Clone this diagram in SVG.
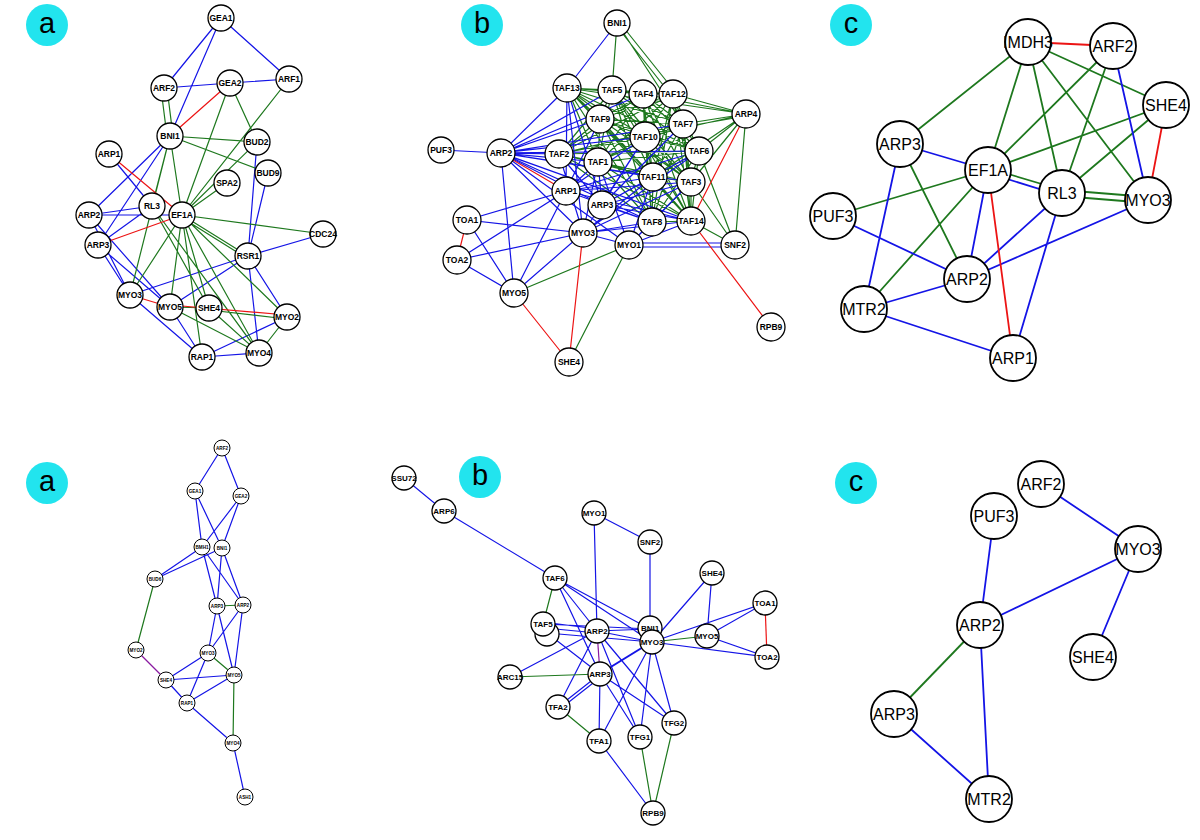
<svg xmlns="http://www.w3.org/2000/svg" width="1200" height="840" viewBox="0 0 1200 840">
<style>
.e path{fill:none;stroke-width:1.2}
.e .b{stroke:#1414e6}
.e .g{stroke:#1e781e}
.e .r{stroke:#ec1414}
.e .p{stroke:#8a1aa0}
.e .w path,.e path.w{stroke-width:1.8}
.n circle{fill:#fff;stroke:#000;stroke-width:1.3}
.n text{font-family:"Liberation Sans",Arial,sans-serif;text-anchor:middle;dominant-baseline:central;fill:#000}
.s1 text{font-size:8.5px;font-weight:bold}
.s2 text{font-size:16px}
.s2 circle{stroke-width:1.8}
.s3 text{font-size:4.6px;font-weight:bold}
.s3 circle{stroke-width:1}
.s4 text{font-size:8px;font-weight:bold}
.lab circle{fill:#22e4ee}
.lab text{font-family:"Liberation Sans",Arial,sans-serif;font-size:29px;text-anchor:middle;dominant-baseline:central}
</style>
<rect width="1200" height="840" fill="#fff"/>
<g class="lab">
<g id="label-a1"><circle cx="47" cy="25" r="21"/><text x="47" y="23">a</text></g>
<g id="label-b1"><circle cx="482" cy="25" r="21"/><text x="482" y="23">b</text></g>
<g id="label-c1"><circle cx="851" cy="25" r="21"/><text x="851" y="23">c</text></g>
<g id="label-a2"><circle cx="47" cy="483" r="21"/><text x="47" y="481">a</text></g>
<g id="label-b2"><circle cx="480" cy="477" r="21"/><text x="480" y="475">b</text></g>
<g id="label-c2"><circle cx="856" cy="483" r="21"/><text x="856" y="481">c</text></g>
</g>
<g id="connectors" class="e">
<!-- top a -->
<path class="b" d="M221 18L164 88M221 18L170 136M221 18L289 79M164 88L230 83M230 83L289 79M170 136L89 215M170 136L98 245M109 154L152 206M89 215L152 206M89 215L182 215M89 215L130 295M89 215L170 307M98 245L152 206M98 245L130 295M98 245L170 307M257 142L248 256M268 173L248 256M248 256L323 234M248 256L130 295M248 256L170 307M248 256L287 317M248 256L259 353M130 295L202 357M170 307L202 357M202 357L259 353M202 357L287 317"/>
<path class="g" d="M161 89L167 136M167 88L173 136M230 83L257 142M230 83L182 215M289 79L182 215M170 136L257 142M170 136L268 173M257 142L182 215M227 183L182 215M170 136L182 215M170 136L152 206M170 136L130 295M182 215L323 234M182 215L248 256M184 219L248 259M182 215L130 295M182 215L170 307M182 215L209 308M182 215L287 317M182 215L259 353M182 215L202 357M152 206L209 308M152 206L259 353M170 307L209 308M170 307L259 353M287 317L259 353M209 308L259 353M209 310L287 319"/>
<path class="r" d="M230 83L170 136M109 154L182 215M98 245L182 215M130 295L170 307M170 305L287 315"/>
<!-- top b -->
<path class="g" d="M567 88L612 90M567 88L643 94M567 88L673 94M567 88L600 119M567 88L683 124M567 88L645 137M567 88L699 151M567 88L598 162M567 88L653 177M567 88L691 182M567 88L652 222M567 88L691 221M612 90L643 94M612 90L673 94M612 90L600 119M612 90L683 124M612 90L645 137M612 90L699 151M612 90L559 154M612 90L598 162M612 90L653 177M612 90L691 182M612 90L652 222M612 90L691 221M643 94L673 94M643 94L600 119M643 94L683 124M643 94L645 137M643 94L699 151M643 94L559 154M643 94L598 162M643 94L653 177M643 94L691 182M643 94L652 222M643 94L691 221M673 94L600 119M673 94L683 124M673 94L645 137M673 94L699 151M673 94L559 154M673 94L598 162M673 94L653 177M673 94L691 182M673 94L652 222M673 94L691 221M600 119L683 124M600 119L645 137M600 119L699 151M600 119L559 154M600 119L598 162M600 119L653 177M600 119L691 182M600 119L652 222M600 119L691 221M683 124L645 137M683 124L699 151M683 124L559 154M683 124L598 162M683 124L653 177M683 124L691 182M683 124L652 222M683 124L691 221M645 137L699 151M645 137L559 154M645 137L598 162M645 137L653 177M645 137L691 182M645 137L652 222M645 137L691 221M699 151L559 154M699 151L598 162M699 151L653 177M699 151L691 182M699 151L652 222M699 151L691 221M559 154L598 162M559 154L653 177M559 154L691 182M559 154L652 222M559 154L691 221M598 162L653 177M598 162L691 182M598 162L652 222M598 162L691 221M653 177L691 182M653 177L652 222M653 177L691 221M691 182L652 222M691 182L691 221M652 222L691 221"/>
<path class="b" d="M501 153L567 88M501 153L612 90M501 153L643 94M501 153L600 119M501 153L645 137M501 153L559 154M501 153L598 162M501 153L653 177M501 153L683 124M501 153L699 151M501 153L691 182M501 153L652 222M501 153L691 221M566 191L598 162M566 191L600 119M566 191L645 137M566 191L653 177M566 191L691 182M566 191L652 222M566 191L691 221M566 191L699 151M566 191L567 88M602 205L645 137M602 205L653 177M602 205L691 182M602 205L652 222M602 205L691 221M602 205L699 151M602 205L598 162M602 205L683 124M602 205L567 88M602 205L559 154M583 233L598 162M583 233L653 177M583 233L691 182M583 233L652 222M583 233L691 221M583 233L699 151M583 233L645 137M583 233L567 88M583 233L559 154M629 245L652 222M629 245L691 221M629 245L691 182M629 245L653 177M629 245L598 162"/>
<path class="b" d="M617 23L567 88M441 150L501 153M501 153L514 293M467 220L566 191M467 220L583 233M467 220L514 293M457 260L566 191M457 260L583 233M457 260L514 293M514 293L566 191M514 293L583 233M629 243L735 243M629 247L735 247M629 245L583 233M501 153L602 205M501 153L583 233M501 153L629 245"/>
<path class="g" d="M617 23L612 90M615 24L671 95M620 23L676 93M617 23L683 124M746 114L567 88M746 114L643 94M746 114L673 94M746 114L683 124M746 116L683 127M746 114L645 137M746 114L699 151M746 114L653 177M746 114L691 182M746 114L735 245M735 245L691 221M735 245L699 151M735 245L691 182M629 245L514 293M629 245L569 362"/>
<path class="r" d="M501 153L566 191M467 220L457 260M583 233L569 362M514 293L569 362M746 114L691 221M691 221L771 327"/>
<!-- top c -->
<g class="w">
<path class="g" d="M1028 42L900 144M1028 42L988 170M1028 42L1062 193M1028 42L1148 200M1028 42L1166 105M1113 46L988 170M1113 46L1062 193M1166 105L988 170M1166 105L1062 193M900 144L967 279M988 168L1062 190M1062 190L1148 197M1062 196L1148 203M988 170L833 216M988 170L864 309"/>
<path class="b" d="M1113 46L1148 200M900 144L988 170M900 144L864 309M988 173L1062 196M988 170L967 279M1062 193L967 279M1062 193L1013 358M1148 200L967 279M833 216L967 279M864 309L967 279M864 309L1013 358"/>
<path class="r" d="M1028 42L1113 46M1166 105L1148 200M988 170L1013 358"/>
</g>
<!-- bottom a -->
<path class="b" d="M222 448L195 491M222 448L241 496M195 491L202 547M195 491L222 548M241 496L202 547M241 496L222 548M202 547L155 579M222 548L155 579M202 547L217 606M202 547L243 605M222 548L217 606M222 548L243 605M217 606L208 653M217 606L234 675M243 605L208 653M243 605L234 675M208 653L166 680M208 653L187 703M166 680L234 675M166 680L187 703M234 675L187 703M187 703L233 743M233 743L245 797"/>
<path class="g" d="M155 579L136 650M217 606L243 605M208 653L234 675M234 675L233 743"/>
<path class="p" d="M136 650L166 680"/>
<!-- bottom b -->
<path class="b" d="M404 478L444 511M444 511L555 578M555 578L597 631M555 578L600 674M555 578L652 642M555 578L650 629M594 513L650 542M594 513L597 631M650 542L650 629M712 573L652 642M712 573L707 636M765 603L652 642M765 603L707 636M652 642L767 657M707 636L767 657M543 622L597 629M545 628L597 633M547 633L652 642M543 624L650 629M597 631L650 629M597 631L652 642M597 631L510 677M597 631L558 707M597 631L640 737M597 631L674 723M600 674L558 707M602 676L560 709M600 674L599 741M600 674L640 737M600 674L674 723M600 674L652 642M602 672L654 640M652 642L599 741M652 642L640 737M652 642L674 723M599 741L653 813M547 633L600 674"/>
<path class="g" d="M555 578L543 624M652 642L707 636M510 677L600 674M558 707L599 741M640 737L653 813M674 723L653 813"/>
<path class="r" d="M765 603L767 657"/>
<path class="p" d="M597 631L600 674"/>
<!-- bottom c -->
<g class="w">
<path class="b" d="M1041 484L1138 549M994 516L980 625M1138 549L980 625M1138 549L1093 657M980 625L989 799M894 714L989 799"/>
<path class="g" d="M980 625L894 714"/>
</g>
</g>
<g id="nodes-top-a" class="n s1">
<g id="ta-GEA1"><circle cx="221" cy="18" r="13"/><text x="221" y="18">GEA1</text></g>
<g id="ta-ARF2"><circle cx="164" cy="88" r="13"/><text x="164" y="88">ARF2</text></g>
<g id="ta-GEA2"><circle cx="230" cy="83" r="13"/><text x="230" y="83">GEA2</text></g>
<g id="ta-ARF1"><circle cx="289" cy="79" r="13"/><text x="289" y="79">ARF1</text></g>
<g id="ta-BNI1"><circle cx="170" cy="136" r="13"/><text x="170" y="136">BNI1</text></g>
<g id="ta-BUD2"><circle cx="257" cy="142" r="13"/><text x="257" y="142">BUD2</text></g>
<g id="ta-BUD9"><circle cx="268" cy="173" r="13"/><text x="268" y="173">BUD9</text></g>
<g id="ta-ARP1"><circle cx="109" cy="154" r="13"/><text x="109" y="154">ARP1</text></g>
<g id="ta-SPA2"><circle cx="227" cy="183" r="13"/><text x="227" y="183">SPA2</text></g>
<g id="ta-RL3"><circle cx="152" cy="206" r="13"/><text x="152" y="206">RL3</text></g>
<g id="ta-EF1A"><circle cx="182" cy="215" r="13"/><text x="182" y="215">EF1A</text></g>
<g id="ta-ARP2"><circle cx="89" cy="215" r="13"/><text x="89" y="215">ARP2</text></g>
<g id="ta-ARP3"><circle cx="98" cy="245" r="13"/><text x="98" y="245">ARP3</text></g>
<g id="ta-CDC24"><circle cx="323" cy="234" r="13"/><text x="323" y="234">CDC24</text></g>
<g id="ta-RSR1"><circle cx="248" cy="256" r="13"/><text x="248" y="256">RSR1</text></g>
<g id="ta-MYO3"><circle cx="130" cy="295" r="13"/><text x="130" y="295">MYO3</text></g>
<g id="ta-MYO5"><circle cx="170" cy="307" r="13"/><text x="170" y="307">MYO5</text></g>
<g id="ta-SHE4"><circle cx="209" cy="308" r="13"/><text x="209" y="308">SHE4</text></g>
<g id="ta-MYO2"><circle cx="287" cy="317" r="13"/><text x="287" y="317">MYO2</text></g>
<g id="ta-RAP1"><circle cx="202" cy="357" r="13"/><text x="202" y="357">RAP1</text></g>
<g id="ta-MYO4"><circle cx="259" cy="353" r="13"/><text x="259" y="353">MYO4</text></g>
</g>
<g id="nodes-top-b" class="n s1">
<g id="tb-BNI1"><circle cx="617" cy="23" r="13"/><text x="617" y="23">BNI1</text></g>
<g id="tb-TAF5"><circle cx="612" cy="90" r="14"/><text x="612" y="90">TAF5</text></g>
<g id="tb-TAF13"><circle cx="567" cy="88" r="14"/><text x="567" y="88">TAF13</text></g>
<g id="tb-TAF4"><circle cx="643" cy="94" r="14"/><text x="643" y="94">TAF4</text></g>
<g id="tb-TAF12"><circle cx="673" cy="94" r="14"/><text x="673" y="94">TAF12</text></g>
<g id="tb-ARP4"><circle cx="746" cy="114" r="14"/><text x="746" y="114">ARP4</text></g>
<g id="tb-TAF9"><circle cx="600" cy="119" r="14"/><text x="600" y="119">TAF9</text></g>
<g id="tb-TAF7"><circle cx="683" cy="124" r="14"/><text x="683" y="124">TAF7</text></g>
<g id="tb-TAF10"><circle cx="645" cy="137" r="15"/><text x="645" y="137">TAF10</text></g>
<g id="tb-PUF3"><circle cx="441" cy="150" r="13"/><text x="441" y="150">PUF3</text></g>
<g id="tb-ARP2"><circle cx="501" cy="153" r="14"/><text x="501" y="153">ARP2</text></g>
<g id="tb-TAF6"><circle cx="699" cy="151" r="14"/><text x="699" y="151">TAF6</text></g>
<g id="tb-TAF2"><circle cx="559" cy="154" r="14"/><text x="559" y="154">TAF2</text></g>
<g id="tb-TAF1"><circle cx="598" cy="162" r="14"/><text x="598" y="162">TAF1</text></g>
<g id="tb-TAF11"><circle cx="653" cy="177" r="14"/><text x="653" y="177">TAF11</text></g>
<g id="tb-TAF3"><circle cx="691" cy="182" r="14"/><text x="691" y="182">TAF3</text></g>
<g id="tb-ARP1"><circle cx="566" cy="191" r="14"/><text x="566" y="191">ARP1</text></g>
<g id="tb-ARP3"><circle cx="602" cy="205" r="14"/><text x="602" y="205">ARP3</text></g>
<g id="tb-TOA1"><circle cx="467" cy="220" r="14"/><text x="467" y="220">TOA1</text></g>
<g id="tb-TAF8"><circle cx="652" cy="222" r="14"/><text x="652" y="222">TAF8</text></g>
<g id="tb-TAF14"><circle cx="691" cy="221" r="14"/><text x="691" y="221">TAF14</text></g>
<g id="tb-MYO3"><circle cx="583" cy="233" r="14"/><text x="583" y="233">MYO3</text></g>
<g id="tb-MYO1"><circle cx="629" cy="245" r="14"/><text x="629" y="245">MYO1</text></g>
<g id="tb-SNF2"><circle cx="735" cy="245" r="14"/><text x="735" y="245">SNF2</text></g>
<g id="tb-TOA2"><circle cx="457" cy="260" r="14"/><text x="457" y="260">TOA2</text></g>
<g id="tb-MYO5"><circle cx="514" cy="293" r="14"/><text x="514" y="293">MYO5</text></g>
<g id="tb-RPB9"><circle cx="771" cy="327" r="14"/><text x="771" y="327">RPB9</text></g>
<g id="tb-SHE4"><circle cx="569" cy="362" r="14"/><text x="569" y="362">SHE4</text></g>
</g>
<g id="nodes-top-c" class="n s2">
<g id="tc-IMDH3"><circle cx="1028" cy="42" r="23"/><text x="1028" y="42">IMDH3</text></g>
<g id="tc-ARF2"><circle cx="1113" cy="46" r="23"/><text x="1113" y="46">ARF2</text></g>
<g id="tc-SHE4"><circle cx="1166" cy="105" r="23"/><text x="1166" y="105">SHE4</text></g>
<g id="tc-ARP3"><circle cx="900" cy="144" r="23"/><text x="900" y="144">ARP3</text></g>
<g id="tc-EF1A"><circle cx="988" cy="170" r="23"/><text x="988" y="170">EF1A</text></g>
<g id="tc-RL3"><circle cx="1062" cy="193" r="23"/><text x="1062" y="193">RL3</text></g>
<g id="tc-MYO3"><circle cx="1148" cy="200" r="23"/><text x="1148" y="200">MYO3</text></g>
<g id="tc-PUF3"><circle cx="833" cy="216" r="23"/><text x="833" y="216">PUF3</text></g>
<g id="tc-ARP2"><circle cx="967" cy="279" r="23"/><text x="967" y="279">ARP2</text></g>
<g id="tc-MTR2"><circle cx="864" cy="309" r="23"/><text x="864" y="309">MTR2</text></g>
<g id="tc-ARP1"><circle cx="1013" cy="358" r="23"/><text x="1013" y="358">ARP1</text></g>
</g>
<g id="nodes-bottom-a" class="n s3">
<g id="ba-ARF2"><circle cx="222" cy="448" r="8"/><text x="222" y="448">ARF2</text></g>
<g id="ba-GEA1"><circle cx="195" cy="491" r="8"/><text x="195" y="491">GEA1</text></g>
<g id="ba-GEA2"><circle cx="241" cy="496" r="8"/><text x="241" y="496">GEA2</text></g>
<g id="ba-BMH1"><circle cx="202" cy="547" r="8"/><text x="202" y="547">BMH1</text></g>
<g id="ba-BNI1"><circle cx="222" cy="548" r="8"/><text x="222" y="548">BNI1</text></g>
<g id="ba-BUD6"><circle cx="155" cy="579" r="8"/><text x="155" y="579">BUD6</text></g>
<g id="ba-ARP3"><circle cx="217" cy="606" r="8"/><text x="217" y="606">ARP3</text></g>
<g id="ba-ARP2"><circle cx="243" cy="605" r="8"/><text x="243" y="605">ARP2</text></g>
<g id="ba-MYO2"><circle cx="136" cy="650" r="8"/><text x="136" y="650">MYO2</text></g>
<g id="ba-MYO3"><circle cx="208" cy="653" r="8"/><text x="208" y="653">MYO3</text></g>
<g id="ba-SHE4"><circle cx="166" cy="680" r="8"/><text x="166" y="680">SHE4</text></g>
<g id="ba-MYO5"><circle cx="234" cy="675" r="8"/><text x="234" y="675">MYO5</text></g>
<g id="ba-RAP1"><circle cx="187" cy="703" r="8"/><text x="187" y="703">RAP1</text></g>
<g id="ba-MYO4"><circle cx="233" cy="743" r="8"/><text x="233" y="743">MYO4</text></g>
<g id="ba-ASH1"><circle cx="245" cy="797" r="8"/><text x="245" y="797">ASH1</text></g>
</g>
<g id="nodes-bottom-b" class="n s4">
<g id="bb-SSU72"><circle cx="404" cy="478" r="12"/><text x="404" y="478">SSU72</text></g>
<g id="bb-ARP6"><circle cx="444" cy="511" r="12"/><text x="444" y="511">ARP6</text></g>
<g id="bb-TAF6"><circle cx="555" cy="578" r="12"/><text x="555" y="578">TAF6</text></g>
<g id="bb-hidden"><circle cx="547" cy="634" r="12"/></g>
<g id="bb-TAF5"><circle cx="543" cy="624" r="12"/><text x="543" y="624">TAF5</text></g>
<g id="bb-MYO1"><circle cx="594" cy="513" r="12"/><text x="594" y="513">MYO1</text></g>
<g id="bb-SNF2"><circle cx="650" cy="542" r="12"/><text x="650" y="542">SNF2</text></g>
<g id="bb-SHE4"><circle cx="712" cy="573" r="12"/><text x="712" y="573">SHE4</text></g>
<g id="bb-TOA1"><circle cx="765" cy="603" r="12"/><text x="765" y="603">TOA1</text></g>
<g id="bb-ARP2"><circle cx="597" cy="631" r="12"/><text x="597" y="631">ARP2</text></g>
<g id="bb-BNI1"><circle cx="650" cy="628" r="12"/><text x="650" y="628">BNI1</text></g>
<g id="bb-MYO3"><circle cx="652" cy="642" r="12"/><text x="652" y="642">MYO3</text></g>
<g id="bb-MYO5"><circle cx="707" cy="636" r="12"/><text x="707" y="636">MYO5</text></g>
<g id="bb-TOA2"><circle cx="767" cy="657" r="12"/><text x="767" y="657">TOA2</text></g>
<g id="bb-ARC15"><circle cx="510" cy="677" r="12"/><text x="510" y="677">ARC15</text></g>
<g id="bb-ARP3"><circle cx="600" cy="674" r="12"/><text x="600" y="674">ARP3</text></g>
<g id="bb-TFA2"><circle cx="558" cy="707" r="12"/><text x="558" y="707">TFA2</text></g>
<g id="bb-TFA1"><circle cx="599" cy="741" r="12"/><text x="599" y="741">TFA1</text></g>
<g id="bb-TFG1"><circle cx="640" cy="737" r="12"/><text x="640" y="737">TFG1</text></g>
<g id="bb-TFG2"><circle cx="674" cy="723" r="12"/><text x="674" y="723">TFG2</text></g>
<g id="bb-RPB9"><circle cx="653" cy="813" r="12"/><text x="653" y="813">RPB9</text></g>
</g>
<g id="nodes-bottom-c" class="n s2">
<g id="bc-ARF2"><circle cx="1041" cy="484" r="23"/><text x="1041" y="484">ARF2</text></g>
<g id="bc-PUF3"><circle cx="994" cy="516" r="23"/><text x="994" y="516">PUF3</text></g>
<g id="bc-MYO3"><circle cx="1138" cy="549" r="23"/><text x="1138" y="549">MYO3</text></g>
<g id="bc-ARP2"><circle cx="980" cy="625" r="23"/><text x="980" y="625">ARP2</text></g>
<g id="bc-SHE4"><circle cx="1093" cy="657" r="23"/><text x="1093" y="657">SHE4</text></g>
<g id="bc-ARP3"><circle cx="894" cy="714" r="23"/><text x="894" y="714">ARP3</text></g>
<g id="bc-MTR2"><circle cx="989" cy="799" r="23"/><text x="989" y="799">MTR2</text></g>
</g>
</svg>
